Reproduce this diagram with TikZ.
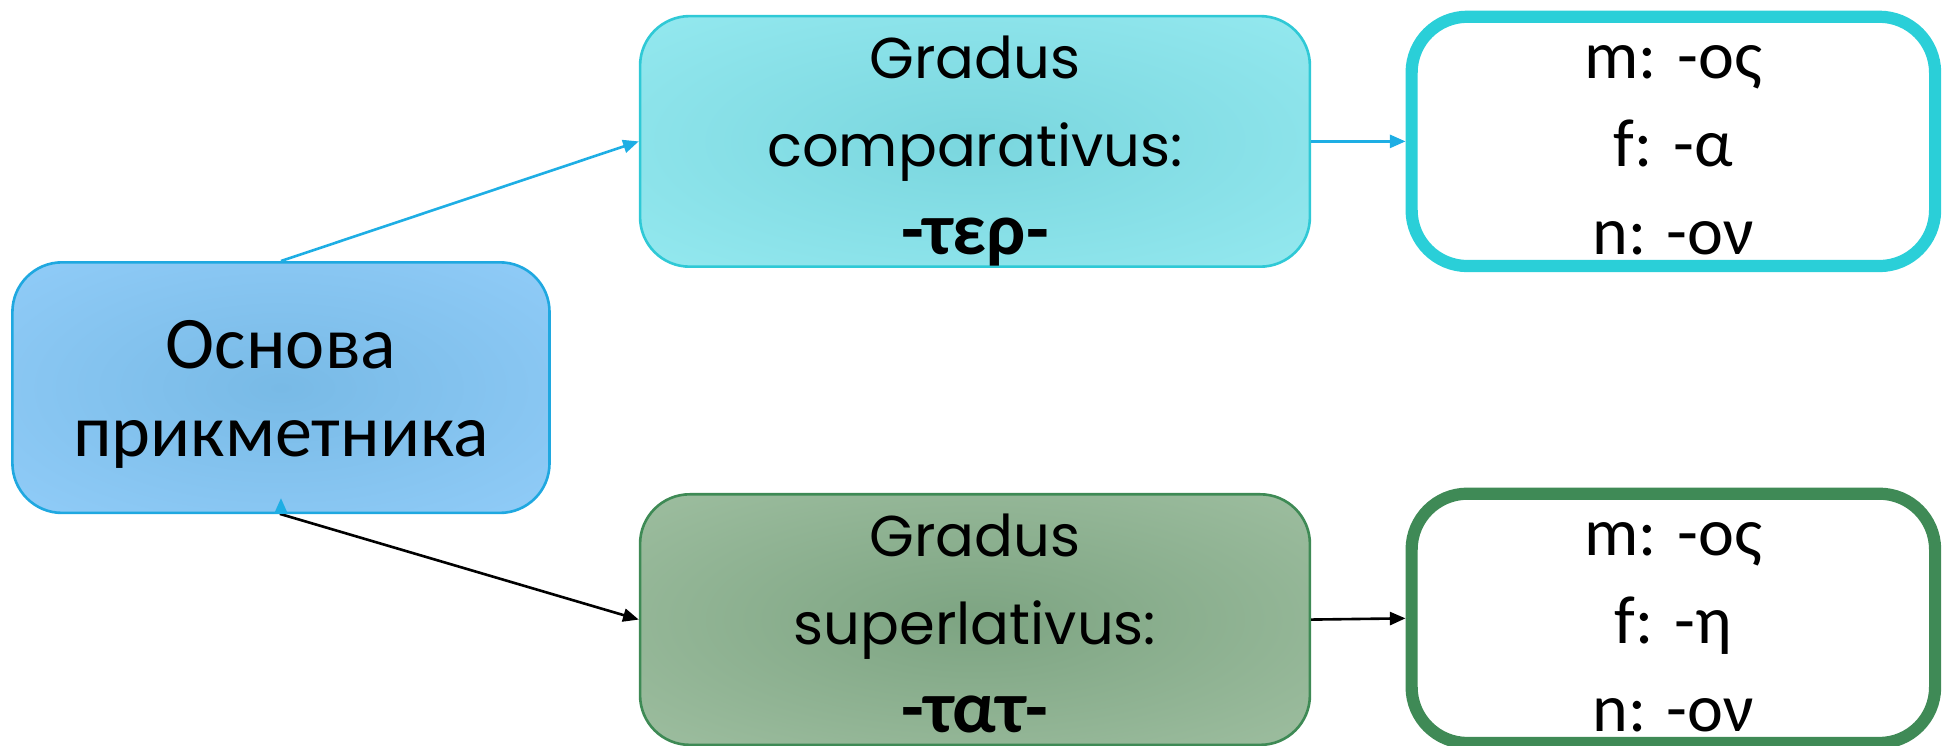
\documentclass[tikz,border=0pt]{standalone}
\usepackage{fontspec}
\setmainfont{Carlito}
\newfontfamily\gradfont{Poppins}
\usetikzlibrary{arrows.meta}
\definecolor{basein}{HTML}{78BAE6}
\definecolor{baseout}{HTML}{9AD3FF}
\definecolor{baseline}{HTML}{1FA8E0}
\definecolor{compin}{HTML}{7AD6DE}
\definecolor{compout}{HTML}{9EF0F6}
\definecolor{compline}{HTML}{2FC9D6}
\definecolor{supin}{HTML}{7DA482}
\definecolor{supout}{HTML}{AAC8AB}
\definecolor{supline}{HTML}{3E8A55}
\definecolor{endcyan}{HTML}{2ACFD8}
\definecolor{endgreen}{HTML}{3F8A56}
\definecolor{arrowblue}{HTML}{1EAEE4}
\pgfdeclareradialshading{baseglow}{\pgfpointorigin}{color(0bp)=(basein); color(50bp)=(baseout); color(72bp)=(baseout)}
\pgfdeclareradialshading{compglow}{\pgfpointorigin}{color(0bp)=(compin); color(50bp)=(compout); color(72bp)=(compout)}
\pgfdeclareradialshading{supglow}{\pgfpointorigin}{color(0bp)=(supin); color(50bp)=(supout); color(72bp)=(supout)}
\newcommand{\hi}{\rule{0pt}{6mm}}
\newcommand{\lo}{\rule[-2mm]{0pt}{2mm}}
\newcommand{\suffix}[1]{{\rmfamily\bfseries\fontsize{17pt}{0.71cm}\selectfont #1}}
\tikzset{
  box/.style={rectangle, rounded corners=4mm, align=center, inner xsep=0pt, inner ysep=-2mm},
  basebox/.style={box, draw=baseline, line width=0.6pt, shading=baseglow,
    minimum width=4.33cm, minimum height=2.02cm, font=\fontsize{17pt}{0.71cm}\selectfont},
  gradbox/.style={box, line width=0.6pt, minimum width=5.4cm, minimum height=2.02cm,
    font=\gradfont\fontsize{13.2pt}{0.71cm}\selectfont},
  endbox/.style={box, fill=white, line width=2.8pt, rounded corners=4.5mm,
    minimum width=4.22cm, minimum height=2.01cm, font=\fontsize{15.6pt}{0.71cm}\selectfont},
  conn/.style={line width=0.6pt, -{Triangle[length=3.6pt,width=3pt]}},
}
\begin{document}
\begin{tikzpicture}
\useasboundingbox (0,0) rectangle (15.68,6.01);

\node[basebox] (osnova) at (2.265, 2.885) {\hi Основа\\прикметника\lo};

\node[gradbox, draw=compline, shading=compglow] (comp) at (7.86, 4.87)
  {\hi Gradus\\comparativus:\\\suffix{-τερ-}\lo};
\node[gradbox, draw=supline, shading=supglow] (sup) at (7.86, 1.015)
  {\hi Gradus\\superlativus:\\\suffix{-τατ-}\lo};

\node[endbox, draw=endcyan] (compend) at (13.49, 4.87) {\hi m: -ος\\f: -α\\n: -ον\lo};
\node[endbox, draw=endgreen] (supend) at (13.49, 1.025) {\hi m: -ος\\f: -η\\n: -ον\lo};

\draw[conn, arrowblue] (osnova.north) -- (comp.west);
\draw[conn, arrowblue] (comp.east) -- (compend.west);
\draw[conn, {Triangle[length=3.6pt,width=3pt,color=arrowblue]}-{Triangle[length=3.6pt,width=3pt]}]
  ([yshift=1.3mm]osnova.south) -- (osnova.south) -- (sup.west);
\draw[conn] (sup.east) -- (supend.west);
\end{tikzpicture}
\end{document}
